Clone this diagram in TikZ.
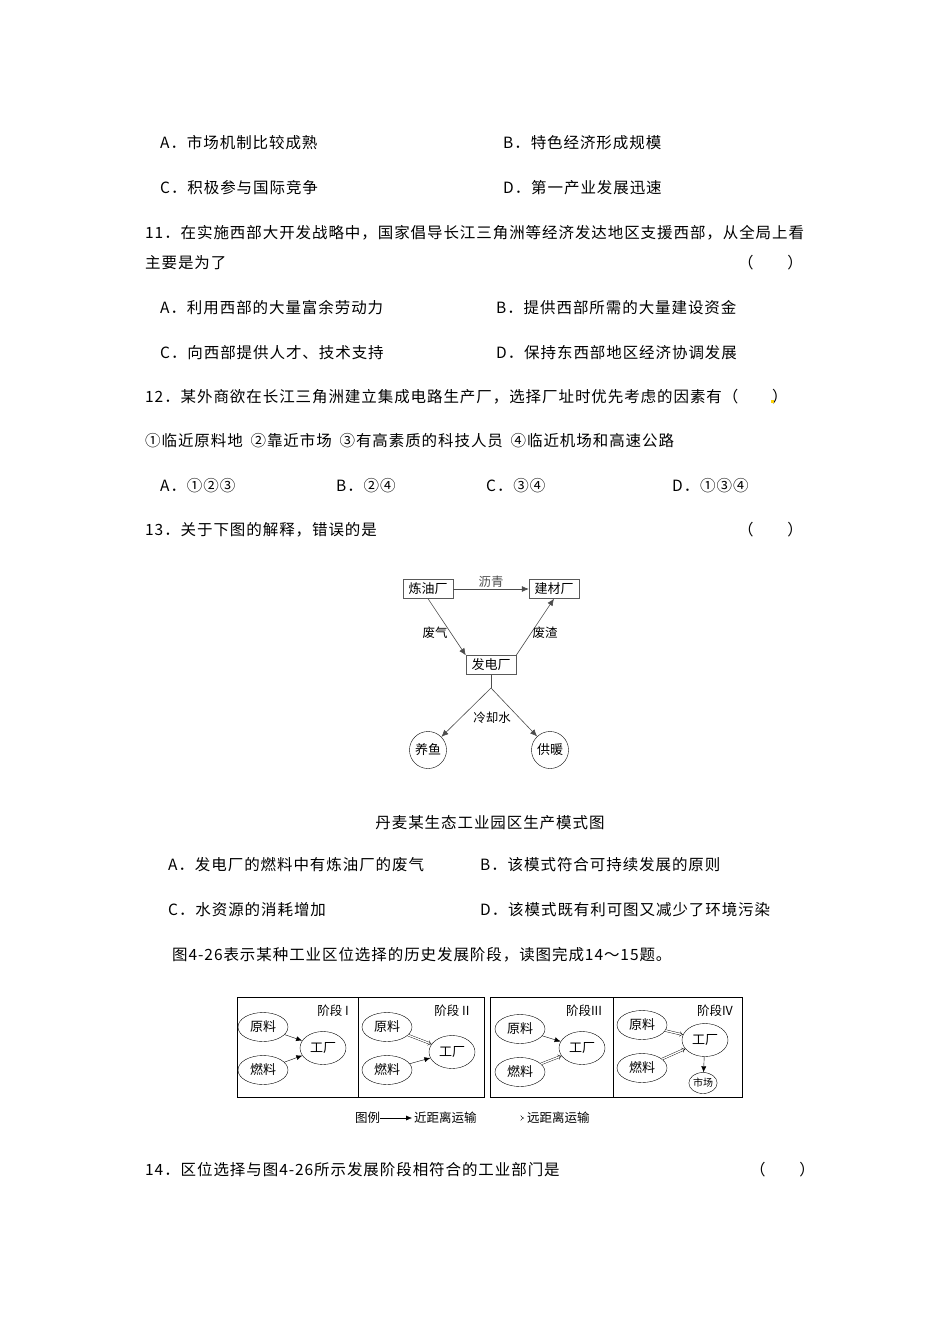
\documentclass[tikz,border=0pt]{standalone}
\usepackage{fontspec}
\setmainfont[LetterSpace=6]{Noto Sans CJK SC}
\newfontfamily\dgfont{Noto Sans CJK SC}
\usetikzlibrary{arrows.meta,shapes.geometric}
\begin{document}
\begin{tikzpicture}[x=1pt,y=-1pt,
  txt/.style={anchor=west,inner sep=0pt,font=\fontsize{15.5}{18}\selectfont},
  lab/.style={inner sep=0pt,font=\dgfont\fontsize{12.5}{15}\selectfont},
  boxn/.style={draw,gray!70!black,text=black,inner sep=1.5pt,minimum width=50pt,minimum height=19pt,font=\dgfont\fontsize{13}{15}\selectfont},
  circn/.style={draw,circle,minimum size=37pt,inner sep=0pt,font=\dgfont\fontsize{13}{15}\selectfont},
  ell/.style={draw,ellipse,inner sep=0pt,font=\dgfont\fontsize{13}{15}\selectfont},
  near/.style={-{Latex[length=6pt,width=5pt]}},
  far/.style={double,double distance=1.4pt,-{Implies}},
  ar/.style={gray!60!black,-{Latex[length=7pt,width=6pt]},line width=0.6pt}]
\useasboundingbox (0,0) rectangle (950,1344);
\node[txt] (t1) at (160,143) {A．市场机制比较成熟};
\node[txt] (t2) at (503,143) {B．特色经济形成规模};
\node[txt] (t3) at (160,188) {C．积极参与国际竞争};
\node[txt] (t4) at (503,188) {D．第一产业发展迅速};
\node[txt] (t5) at (145,233) {11．在实施西部大开发战略中，国家倡导长江三角洲等经济发达地区支援西部，从全局上看};
\node[txt] (t6) at (145,263) {主要是为了};
\node[txt] (t7) at (738,263) {（　　）};
\node[txt] (t8) at (160,308) {A．利用西部的大量富余劳动力};
\node[txt] (t9) at (496,308) {B．提供西部所需的大量建设资金};
\node[txt] (t10) at (160,353) {C．向西部提供人才、技术支持};
\node[txt] (t11) at (496,353) {D．保持东西部地区经济协调发展};
\node[txt] (t12) at (145,397) {12．某外商欲在长江三角洲建立集成电路生产厂，选择厂址时优先考虑的因素有（　　）};
\fill[yellow!70!orange] (771,400) rectangle (774,403);
\node[txt] (t13) at (145,441) {①临近原料地\enspace ②靠近市场\enspace ③有高素质的科技人员\enspace ④临近机场和高速公路};
\node[txt] (t14) at (160,486) {A．①②③};
\node[txt] (t15) at (336,486) {B．②④};
\node[txt] (t16) at (486,486) {C．③④};
\node[txt] (t17) at (672,486) {D．①③④};
\node[txt] (t18) at (145,530) {13．关于下图的解释，错误的是};
\node[txt] (t19) at (738,530) {（　　）};
% diagram 1
\node[boxn] (ly) at (428,589) {炼油厂};
\node[boxn] (jc) at (554,589) {建材厂};
\node[boxn] (fd) at (491,665) {发电厂};
\node[circn] (yy) at (428,750) {养鱼};
\node[circn] (gn) at (550,750) {供暖};
\coordinate (br) at (491,688);
\draw[ar] (ly) -- (jc) node[midway,above=1pt,lab] {沥青};
\draw[ar] (ly.south) -- (fd.north west);
\node[lab] (fq) at (435,633) {废气};
\draw[ar] (fd.north east) -- (jc.south);
\node[lab] (fz) at (545,633) {废渣};
\draw[gray!60!black,line width=0.6pt] (fd.south) -- (br);
\draw[ar] (br) -- (yy);
\draw[ar] (br) -- (gn);
\node[lab] (lq) at (492,718) {冷却水};
\node[txt,anchor=center] (cap1) at (490,823) {丹麦某生态工业园区生产模式图};
\node[txt] (t20) at (168,865) {A．发电厂的燃料中有炼油厂的废气};
\node[txt] (t21) at (480,865) {B．该模式符合可持续发展的原则};
\node[txt] (t22) at (168,910) {C．水资源的消耗增加};
\node[txt] (t23) at (480,910) {D．该模式既有利可图又减少了环境污染};
\node[txt] (t24) at (172,955) {图4-26表示某种工业区位选择的历史发展阶段，读图完成14～15题。};
% diagram 2
\draw[line width=0.8pt] (237,997) rectangle (484,1097) (358,997) -- (358,1097);
\draw[line width=0.8pt] (490,997) rectangle (742,1097) (613,997) -- (613,1097);
\node[lab] (s1) at (333,1011) {阶段 I};
\node[lab] (s2) at (452,1011) {阶段 II};
\node[lab] (s3) at (584,1011) {阶段III};
\node[lab] (s4) at (715,1011) {阶段IV};
\foreach \i/\xa/\xb/\yb/\xc/\yc in {1/263/263/1070/323/1048, 2/387/387/1070/452/1052, 3/520/520/1072/582/1048, 4/642/642/1068/705/1040}{
  \node[ell,minimum width=50pt,minimum height=29pt] (yl\i) at (\xa,{\yb-43}) {原料};
  \node[ell,minimum width=50pt,minimum height=29pt] (rl\i) at (\xb,\yb) {燃料};
  \node[ell,minimum width=46pt,minimum height=33pt] (gc\i) at (\xc,\yc) {工厂};
}
\node[ell,minimum width=26pt,minimum height=21pt,font=\dgfont\fontsize{10}{12}\selectfont] (sc) at (703,1083) {市场};
\draw[near] (yl1) -- (gc1);
\draw[near] (rl1) -- (gc1);
\draw[far] (yl2) -- (gc2);
\draw[near] (rl2) -- (gc2);
\draw[near] (yl3) -- (gc3);
\draw[far] (rl3) -- (gc3);
\draw[far] (yl4) -- (gc4);
\draw[far] (rl4) -- (gc4);
\draw[near] (gc4) -- (sc);
\node[lab,anchor=west] (lg) at (355,1118) {图例};
\coordinate (a1) at (380,1118);
\coordinate (a1e) at (412,1118);
\node[lab,anchor=west] (lg1) at (414,1118) {近距离运输};
\draw[near] (a1) -- (a1e);
\coordinate (a2) at (497,1118);
\coordinate (a2e) at (524,1118);
\node[lab,anchor=west] (lg2) at (527,1118) {远距离运输};
\draw[far] (a2) -- (a2e);
\node[txt] (t25) at (145,1170) {14．区位选择与图4-26所示发展阶段相符合的工业部门是};
\node[txt] (t26) at (750,1170) {（　　）};
\end{tikzpicture}
\end{document}
